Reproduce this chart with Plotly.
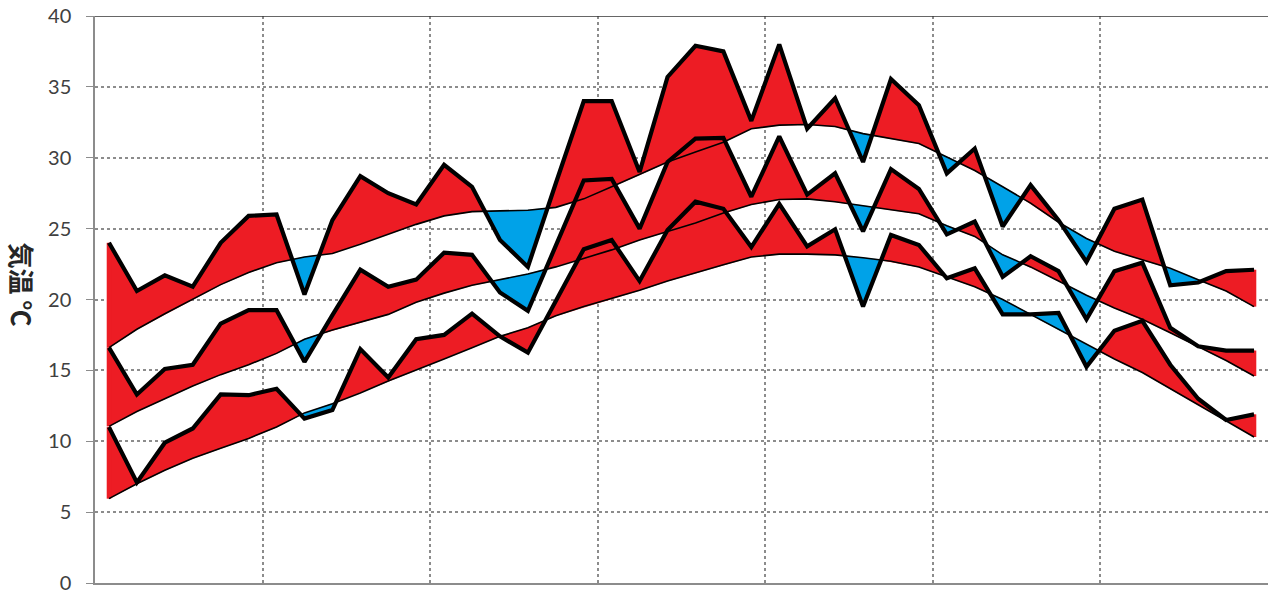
import plotly.graph_objects as go

# ---- data ----
hi_actual = [24.0, 20.6, 21.7, 20.9, 24.0, 25.9, 26.0, 20.35, 25.6, 28.7, 27.5, 26.7,
             29.5, 27.95, 24.2, 22.3, 28.2, 34.0, 34.0, 29.0, 35.7, 37.9, 37.5, 32.6,
             38.0, 32.05, 34.2, 29.7, 35.55, 33.7, 28.9, 30.65, 25.15, 28.07, 25.6, 22.65,
             26.4, 27.05, 21.0, 21.2, 22.0, 22.1]
hi_normal = [16.6, 17.9, 19.0, 20.0, 21.05, 21.9, 22.6, 23.0, 23.25, 23.9, 24.6, 25.3,
             25.9, 26.2, 26.25, 26.3, 26.5, 27.1, 27.95, 28.8, 29.7, 30.4, 31.1, 32.05,
             32.3, 32.35, 32.2, 31.7, 31.35, 31.0, 30.05, 29.1, 27.95, 26.8, 25.45, 24.3,
             23.4, 22.8, 22.2, 21.4, 20.6, 19.5]
mean_actual = [16.6, 13.3, 15.1, 15.4, 18.3, 19.25, 19.25, 15.6, 18.9, 22.1, 20.9, 21.4,
               23.3, 23.15, 20.5, 19.2, 23.8, 28.4, 28.5, 25.0, 29.7, 31.35, 31.4, 27.25,
               31.5, 27.4, 28.9, 24.8, 29.2, 27.8, 24.6, 25.5, 21.6, 23.05, 22.0, 18.6,
               22.0, 22.6, 18.0, 16.7, 16.4, 16.4]
mean_normal = [11.05, 12.1, 13.0, 13.9, 14.7, 15.4, 16.2, 17.2, 17.85, 18.4, 18.95, 19.8,
               20.45, 21.0, 21.4, 21.8, 22.3, 22.9, 23.5, 24.2, 24.8, 25.4, 26.1, 26.7,
               27.05, 27.1, 26.9, 26.6, 26.35, 26.05, 25.2, 24.45, 23.15, 22.3, 21.3, 20.3,
               19.4, 18.6, 17.65, 16.7, 15.7, 14.6]
lo_actual = [11.0, 7.1, 9.9, 10.9, 13.3, 13.25, 13.7, 11.6, 12.2, 16.5, 14.5, 17.2,
             17.5, 19.0, 17.4, 16.25, 19.9, 23.55, 24.2, 21.3, 24.9, 26.9, 26.4, 23.7,
             26.75, 23.75, 24.95, 19.5, 24.55, 23.85, 21.5, 22.2, 18.95, 18.95, 19.05, 15.25,
             17.8, 18.5, 15.4, 13.0, 11.5, 11.9]
lo_normal = [5.95, 7.0, 7.95, 8.8, 9.5, 10.2, 11.0, 12.0, 12.65, 13.4, 14.25, 15.0,
             15.8, 16.6, 17.4, 18.0, 18.85, 19.5, 20.05, 20.65, 21.3, 21.9, 22.45, 23.0,
             23.2, 23.2, 23.15, 22.95, 22.7, 22.3, 21.6, 20.9, 20.0, 18.95, 17.9, 16.8,
             15.8, 14.85, 13.7, 12.55, 11.45, 10.3]
y_ticks = [0, 5, 10, 15, 20, 25, 30, 35, 40]
y_title = "気温 ℃"

RED = "#ED1C24"
BLUE = "#00A2E8"
GRID = "#8C8C8C"

n = len(hi_actual)
xs = list(range(n))

FIG_W, FIG_H = 1271, 597
M_L, M_R, M_T, M_B = 95, 3, 15, 12
PLOT_W = FIG_W - M_L - M_R
PLOT_H = FIG_H - M_T - M_B


def sign(v):
    return 1 if v > 0 else (-1 if v < 0 else 0)


def band_runs(a, nm):
    runs = []
    cur = [(0, a[0], nm[0])]
    cs = sign(a[0] - nm[0])
    for i in range(len(a) - 1):
        d0 = a[i] - nm[i]
        d1 = a[i + 1] - nm[i + 1]
        if d0 * d1 < 0:
            t = d0 / (d0 - d1)
            xc = i + t
            yc = a[i] + t * (a[i + 1] - a[i])
            cur.append((xc, yc, yc))
            runs.append((cs, cur))
            cur = [(xc, yc, yc)]
            cs = sign(d1)
        cur.append((i + 1, a[i + 1], nm[i + 1]))
        if cs == 0:
            cs = sign(d1)
    runs.append((cs, cur))
    return runs


fig = go.Figure()

red_x, red_y, blue_x, blue_y = [], [], [], []
bands = [(hi_actual, hi_normal), (mean_actual, mean_normal), (lo_actual, lo_normal)]
for a, nm in bands:
    for s, pts in band_runs(a, nm):
        px = [p[0] for p in pts] + [p[0] for p in reversed(pts)]
        py = [p[1] for p in pts] + [p[2] for p in reversed(pts)]
        if s >= 0:
            red_x += px + [None]
            red_y += py + [None]
        else:
            blue_x += px + [None]
            blue_y += py + [None]

fig.add_trace(go.Scatter(x=red_x, y=red_y, mode="lines", fill="toself",
                         fillcolor=RED, line=dict(width=0.6, color=RED),
                         hoverinfo="skip", showlegend=False))
fig.add_trace(go.Scatter(x=blue_x, y=blue_y, mode="lines", fill="toself",
                         fillcolor=BLUE, line=dict(width=0.6, color=BLUE),
                         hoverinfo="skip", showlegend=False))

# red edges at both ends of each band
for a, nm in bands:
    for idx in (0, n - 1):
        fig.add_trace(go.Scatter(x=[xs[idx], xs[idx]], y=[nm[idx], a[idx]], mode="lines",
                                 line=dict(width=4.5, color=RED),
                                 hoverinfo="skip", showlegend=False))

for a, nm in bands:
    fig.add_trace(go.Scatter(x=xs, y=nm, mode="lines",
                             line=dict(width=1.6, color="black"),
                             hoverinfo="skip", showlegend=False))
for a, nm in bands:
    fig.add_trace(go.Scatter(x=xs, y=a, mode="lines",
                             line=dict(width=4.2, color="black"),
                             hoverinfo="skip", showlegend=False))

fig.update_layout(
    width=FIG_W, height=FIG_H,
    margin=dict(l=M_L, r=M_R, t=M_T, b=M_B),
    paper_bgcolor="white", plot_bgcolor="white",
    showlegend=False,
    font=dict(family="Lato, Open Sans, sans-serif", size=20, color="#404040"),
)
fig.update_xaxes(
    range=[-0.5, n - 0.5],
    tickvals=[k - 0.5 for k in range(6, n + 1, 6)],
    showticklabels=False, ticks="",
    showgrid=True, gridcolor=GRID, gridwidth=1.5, griddash="dot",
    showline=True, linecolor="#8C8C8C", linewidth=1.5,
    zeroline=False, fixedrange=True,
)
fig.update_yaxes(
    range=[0, 40], tickvals=y_ticks,
    ticks="outside", ticklen=7, tickcolor="#8C8C8C", tickwidth=1.2,
    ticklabelstandoff=11, ticklabeloverflow="allow",
    showgrid=True, gridcolor=GRID, gridwidth=1.5, griddash="dot",
    showline=True, linecolor="#8C8C8C", linewidth=1.5,
    zeroline=False, fixedrange=True,
)
fig.add_shape(type="line", xref="paper", yref="y", x0=0, x1=1, y0=40, y1=40,
              line=dict(color="#333333", width=1.5))
# axis title: centre about 22px from the left edge, 285px from the top
fig.add_annotation(text="<b>" + y_title + "</b>", xref="paper", yref="paper",
                   x=(22 - M_L) / PLOT_W, y=(FIG_H - M_B - 285) / PLOT_H,
                   showarrow=False,
                   textangle=90, xanchor="center", yanchor="middle",
                   font=dict(family="Noto Sans CJK JP", size=26, color="#262626"))

# remove the browser's default 8px page margin so the figure fills the window
fig.write_html("out.html", config={"displayModeBar": False},
               post_script="document.body.style.margin='0';")
